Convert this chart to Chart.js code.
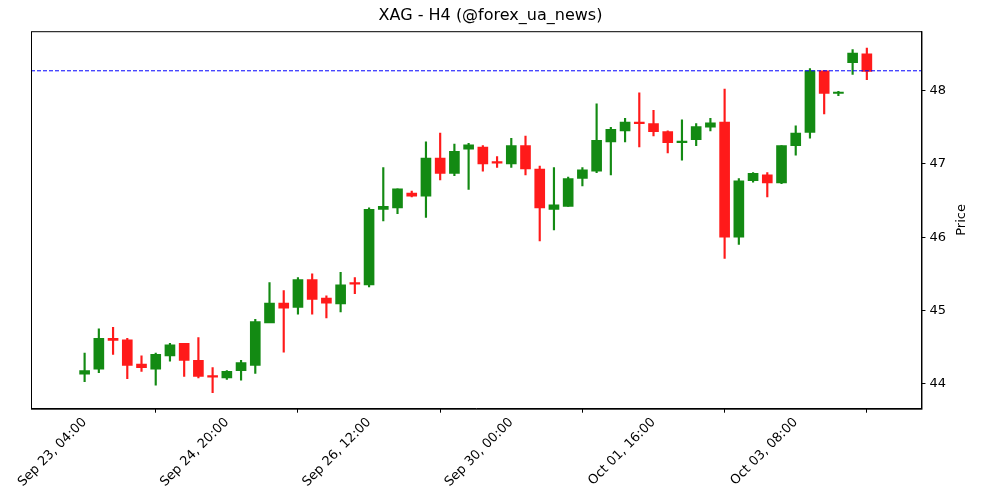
<!DOCTYPE html>
<html>
<head>
<meta charset="utf-8">
<script src="https://cdn.jsdelivr.net/npm/chart.js@4"></script>
<style>
  body { margin: 0; background: #fff; }
</style>
</head>
<body>
<canvas id="chart" width="1000" height="500"></canvas>
<script>
// OHLC data, 4h candles
const opens  = [44.13,44.20,44.62,44.60,44.27,44.20,44.38,44.55,44.32,44.10,44.08,44.18,44.25,44.83,45.10,45.04,45.42,45.17,45.09,45.37,
                45.35,46.38,46.40,46.60,46.56,47.08,46.87,47.20,47.23,47.02,47.00,47.25,46.93,46.38,46.42,46.80,46.90,47.30,47.45,47.56,
                47.55,47.44,47.29,47.33,47.50,47.57,46.00,46.77,46.85,46.74,47.25,47.43,48.27,47.96,48.38,48.50];
const highs  = [44.42,44.75,44.77,44.62,44.38,44.42,44.55,44.55,44.63,44.22,44.18,44.32,44.88,45.38,45.27,45.45,45.50,45.20,45.52,45.45,
                46.40,46.95,46.66,46.63,47.30,47.42,47.27,47.28,47.25,47.10,47.35,47.38,46.97,46.95,46.82,46.95,47.82,47.50,47.62,47.97,
                47.73,47.45,47.60,47.55,47.62,48.02,46.80,46.88,46.88,47.25,47.52,48.30,48.27,47.99,48.56,48.58];
const lows   = [44.03,44.15,44.40,44.07,44.17,43.98,44.31,44.10,44.08,43.88,44.06,44.05,44.14,44.95,44.43,44.95,44.95,44.90,44.98,45.23,
                45.32,46.22,46.32,46.55,46.27,46.78,46.84,46.65,46.90,46.95,46.95,46.85,45.95,46.10,46.42,46.70,46.88,46.85,47.30,47.23,
                47.38,47.15,47.05,47.25,47.45,45.71,45.90,46.75,46.55,46.73,47.12,47.35,47.68,47.93,48.22,48.15];
const closes = [44.18,44.62,44.59,44.25,44.22,44.40,44.53,44.32,44.10,44.09,44.17,44.29,44.85,45.10,45.03,45.42,45.15,45.10,45.35,45.36,
                46.38,46.42,46.66,46.56,47.08,46.87,47.17,47.26,47.00,47.01,47.25,46.93,46.40,46.44,46.80,46.92,47.32,47.47,47.57,47.55,
                47.44,47.29,47.31,47.51,47.56,46.00,46.77,46.87,46.74,47.25,47.42,48.27,47.96,47.97,48.51,48.26];
const tickIndex  = [0, 10, 20, 30, 40, 50];
const tickLabels = ['Sep 23, 04:00', 'Sep 24, 20:00', 'Sep 26, 12:00', 'Sep 30, 00:00', 'Oct 01, 16:00', 'Oct 03, 08:00'];
const priceTicks = [44, 45, 46, 47, 48];
const lastPrice = 48.27;

const GREEN = '#138a13';
const RED = '#ff1a1a';

const colors = opens.map((o, i) => closes[i] >= o ? GREEN : RED);
const bodies = opens.map((o, i) => ({ x: i, y: [o, closes[i]] }));
const wicks = opens.map((o, i) => ({ x: i, y: [lows[i], highs[i]] }));

const xMin = -3.77, xMax = 58.84;

// matplotlib-style frame around the plot area, plus the y title read bottom-to-top
const framePlugin = {
    id: 'frame',
    afterDraw(chart) {
        const { ctx, chartArea: a } = chart;
        ctx.save();
        ctx.strokeStyle = '#000';
        ctx.lineWidth = 1;
        ctx.strokeRect(a.left + 0.5, a.top + 0.5, a.right - a.left, a.bottom - a.top);
        ctx.translate(a.right + 40, (a.top + a.bottom) / 2);
        ctx.rotate(-Math.PI / 2);
        ctx.fillStyle = '#000';
        ctx.font = '13px "DejaVu Sans"';
        ctx.textAlign = 'center';
        ctx.textBaseline = 'middle';
        ctx.fillText('Price', 0, 0);
        ctx.restore();
    }
};

new Chart(document.getElementById('chart').getContext('2d'), {
    data: {
        datasets: [
            {
                type: 'bar',
                data: wicks,
                backgroundColor: colors,
                barThickness: 1.5,
                grouped: false,
                order: 2
            },
            {
                type: 'bar',
                data: bodies,
                backgroundColor: colors,
                borderWidth: 0,
                minBarLength: 1.5,
                barThickness: 10,
                grouped: false,
                order: 1
            },
            {
                type: 'line',
                data: [{ x: xMin, y: lastPrice }, { x: xMax, y: lastPrice }],
                borderColor: '#0000ff',
                borderWidth: 1,
                borderDash: [4, 2],
                pointRadius: 0,
                order: 0
            }
        ]
    },
    options: {
        responsive: false,
        animation: false,
        devicePixelRatio: 1,
        layout: { padding: { left: 31, right: 50, top: 0, bottom: 8 } },
        scales: {
            x: {
                type: 'linear',
                min: xMin,
                max: xMax,
                offset: false,
                grid: { display: true, drawOnChartArea: false, tickLength: 4, color: '#000' },
                border: { color: '#000' },
                afterBuildTicks(axis) {
                    axis.ticks = tickIndex.map(v => ({ value: v }));
                },
                ticks: {
                    autoSkip: false,
                    maxRotation: 45,
                    minRotation: 45,
                    padding: 2,
                    color: '#000',
                    font: { family: 'DejaVu Sans', size: 13 },
                    callback: (v) => tickLabels[tickIndex.indexOf(v)]
                }
            },
            y: {
                position: 'right',
                min: 43.66,
                max: 48.81,
                grid: { display: true, drawOnChartArea: false, tickLength: 4, color: '#000' },
                border: { color: '#000' },
                afterBuildTicks(axis) {
                    axis.ticks = priceTicks.map(v => ({ value: v }));
                },
                ticks: {
                    padding: 4,
                    color: '#000',
                    font: { family: 'DejaVu Sans', size: 13 }
                }
            }
        },
        plugins: {
            legend: { display: false },
            tooltip: { enabled: false },
            title: {
                display: true,
                text: 'XAG - H4 (@forex_ua_news)',
                color: '#000',
                font: { family: 'DejaVu Sans', size: 16, weight: 'normal' },
                padding: { top: 6, bottom: 6 }
            }
        }
    },
    plugins: [framePlugin]
});
</script>
</body>
</html>
